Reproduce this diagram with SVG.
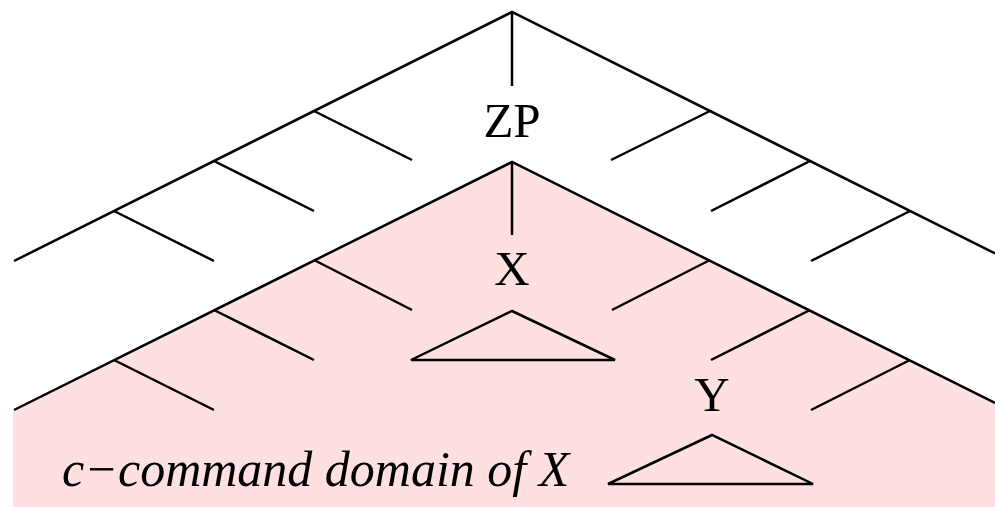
<svg xmlns="http://www.w3.org/2000/svg" width="995" height="507" viewBox="0 0 995 507">
<style>
.l{stroke:#000;stroke-width:2.5;fill:none;stroke-linecap:butt}
.t{font-family:"Liberation Serif","Times New Roman",serif;font-size:49px;fill:#000;text-anchor:middle}
.i{font-family:"Liberation Serif","Times New Roman",serif;font-size:50px;font-style:italic;fill:#000}
</style>
<rect width="995" height="507" fill="#fff"/>
<polygon id="domain" points="512,162 13,411 13,507 995,507 995,403" fill="#ffe0e0"/>
<g id="connectors">
<path class="l" d="M14,261 L512,12 L995,253.5"/>
<path class="l" d="M512,12 V86"/>
<path class="l" d="M114,211 L214,261 M214,161 L314,211 M314,111 L412,160"/>
<path class="l" d="M910,211 L811,261 M810,161 L711,211 M710,111 L611,160"/>
<path class="l" d="M14,410 L512,162 L995,403"/>
<path class="l" d="M512,162 V235"/>
<path class="l" d="M114,360 L214,410 M214,310 L314,360 M314,260 L412,310"/>
<path class="l" d="M910,360 L811,410 M810,310 L711,360 M710,260 L612,310"/>
</g>
<g id="ZP"><text class="t" x="512" y="137">ZP</text></g>
<g id="X"><text class="t" x="512" y="285">X</text>
<polygon class="l" points="512,311 411,360 615,360"/></g>
<g id="Y"><text class="t" x="712" y="411">Y</text>
<polygon class="l" points="712,435 608,484 813,484"/></g>
<g id="label"><text class="i" x="62" y="486">c−command domain of X</text></g>
</svg>
